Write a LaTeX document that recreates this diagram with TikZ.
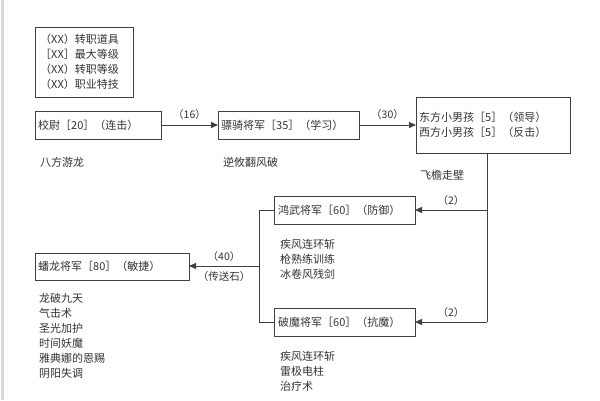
\documentclass[tikz,border=0pt]{standalone}
\usepackage{fontspec}
\setmainfont{Noto Sans CJK SC}
\usetikzlibrary{arrows.meta}
\begin{document}
\begin{tikzpicture}[x=1pt,y=-1pt,
 box/.style={draw=black!75,line width=1pt},
 txt/.style={anchor=west,inner sep=0pt,font=\fontsize{11}{15}\selectfont,text=black!80,align=left},
 lbl/.style={inner sep=0pt,font=\fontsize{10.5}{12}\selectfont,text=black!80},
 con/.style={draw=black!75,line width=1pt},
 arr/.style={con,-{Triangle[length=7pt,width=6pt]}}]
\useasboundingbox[fill=white] (0,0) rectangle (600,400);
\draw[black!15,line width=3pt] (2,0) -- (2,400);
\draw[box] (35,27) rectangle (133,97);
\node[txt] at (40,62) {（XX）转职道具\\［XX］最大等级\\（XX）转职等级\\（XX）职业特技};
\draw[box] (35,111) rectangle (161,139);
\node[txt] (a) at (38,125) {校尉［20］（连击）};
\coordinate (aR) at (161,125);
\draw[box] (218,111) rectangle (359,139);
\node[txt] at (221,125) {骠骑将军［35］（学习）};
\coordinate (bL) at (218,125); \coordinate (bR) at (359,125);
\draw[box] (416,97) rectangle (570,153);
\node[txt] at (419,125) {东方小男孩［5］（领导）\\西方小男孩［5］（反击）};
\coordinate (cL) at (416,125); \coordinate (cB) at (487,153);
\node[txt] at (40,162) {八方游龙};
\node[txt] at (223,162) {逆攸翻风破};
\node[txt] at (420,175) {飞檐走壁};
\draw[arr] (aR) -- node[lbl,above=5pt]{（16）} (bL);
\draw[arr] (bR) -- node[lbl,above=5pt]{（30）} (cL);
\draw[box] (274,196) rectangle (415,224);
\node[txt] at (278,210) {鸿武将军［60］（防御）};
\draw[box] (274,308) rectangle (415,336);
\node[txt] at (278,322) {破魔将军［60］（抗魔）};
\coordinate (dR) at (415,210); \coordinate (eR) at (415,322);
\coordinate (dL) at (274,210); \coordinate (eL) at (274,322);
\coordinate (j1) at (487,210); \coordinate (j2) at (487,322);
\draw[con] (cB) -- (j2);
\draw[arr] (j1) -- node[lbl,above=4pt]{（2）} (dR);
\draw[arr] (j2) -- node[lbl,above=4pt]{（2）} (eR);
\node[txt] at (280,259) {疾风连环斩\\枪熟练训练\\冰卷风残剑};
\node[txt] at (280,371) {疾风连环斩\\雷极电柱\\治疗术};
\draw[box] (35,253) rectangle (189,280);
\node[txt] at (38,266) {蟠龙将军［80］（敏捷）};
\coordinate (fR) at (189,266); \coordinate (k) at (259,266);
\draw[con] (dL) -- (259,210) -- (259,322) -- (eL);
\draw[arr] (k) -- node[lbl,above=4pt]{（40）} node[lbl,below=5pt]{（传送石）} (fR);
\node[txt] at (39,336) {龙破九天\\气击术\\圣光加护\\时间妖魔\\雅典娜的恩赐\\阴阳失调};
\end{tikzpicture}
\end{document}
